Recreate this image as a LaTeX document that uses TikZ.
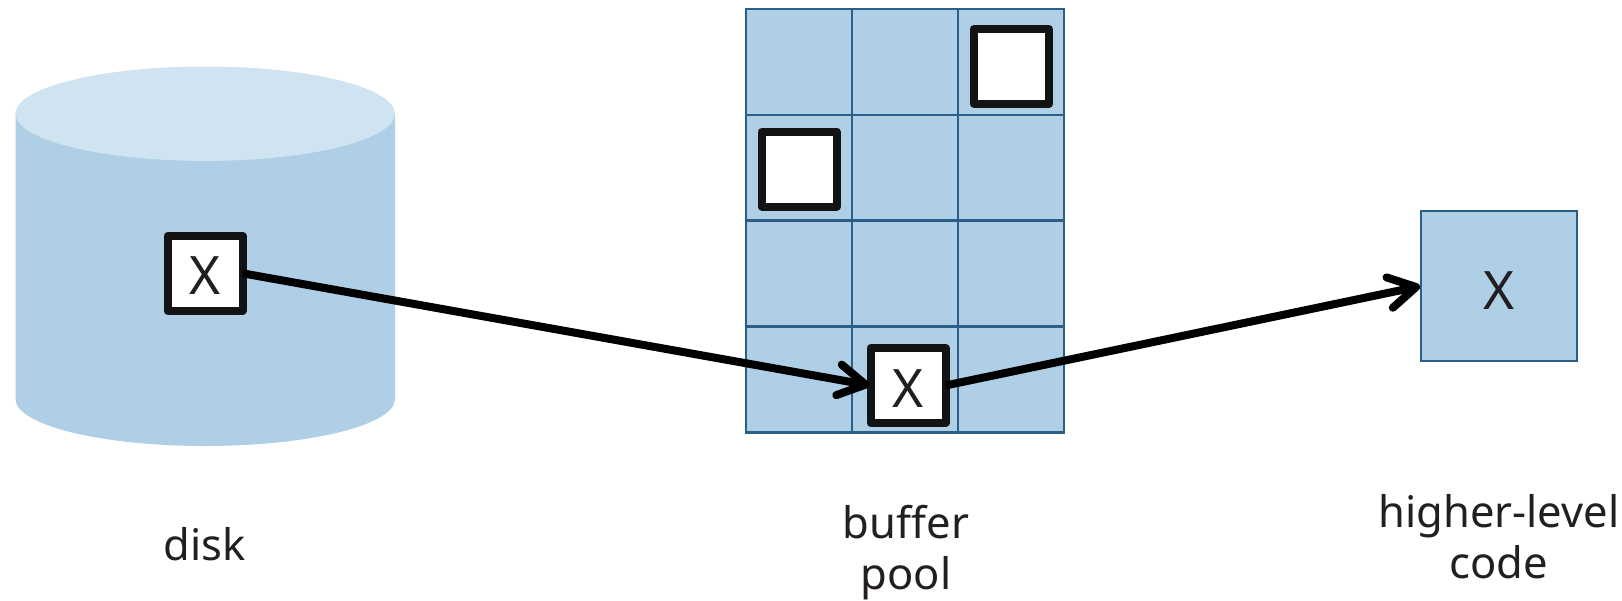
\documentclass[tikz,border=0pt]{standalone}
\usepackage{fontspec}
\setmainfont{Noto Sans}
\usetikzlibrary{arrows.meta}
\definecolor{blockfill}{HTML}{AECFE6}
\definecolor{blockline}{HTML}{2C5F87}
\definecolor{cyltop}{HTML}{D0E3F0}
\definecolor{inkdark}{HTML}{141313}
\definecolor{txt}{HTML}{231F20}
\tikzset{
  x=1pt,y=-1pt,
  cell/.style={draw=blockline,fill=blockfill,line width=2.6pt,minimum width=106pt,minimum height=105.8pt,inner sep=0pt,outer sep=0pt},
  codebox/.style={draw=blockline,fill=blockfill,line width=2.6pt,minimum width=156pt,minimum height=150pt,inner sep=0pt,outer sep=0pt,text=txt,font=\fontsize{53}{53}\selectfont,text height=46pt,text depth=0pt},
  page/.style={draw=inkdark,fill=white,line width=8pt,line join=round,minimum size=75pt,inner sep=0pt,outer sep=0pt,text=txt,font=\fontsize{53}{53}\selectfont,text height=43pt,text depth=0pt},
  caption/.style={align=center,text=txt,font=\fontsize{43.5}{51}\selectfont},
  conn/.style={line width=8pt,black,-{Straight Barb[length=27pt,width=31pt,round,line width=8pt]},shorten >=1pt},
}
\begin{document}
\begin{tikzpicture}
\useasboundingbox (0,0) rectangle (1622,600);
% disk
\fill[blockfill] (15.5,113.7) -- (15.5,399) arc[start angle=180,end angle=0,x radius=189.75,y radius=47] -- (395,113.7) -- cycle;
\fill[cyltop] (205.2,113.7) ellipse[x radius=189.75,y radius=47.2];
% buffer pool
\foreach \c/\x in {a/799,b/905,c/1011}{
  \foreach \r/\y in {1/61.9,2/167.7,3/273.5,4/379.4}{
    \node[cell] (\c\r) at (\x,\y) {};
  }
}
\node[page] (top) at (1011.3,66.5) {};
\node[page] (left) at (799.2,169) {};
\node[page] (bufx) at (908,385.5) {X};
\node[page] (diskx) at (205,273.3) {X};
\node[codebox] (higher) at (1499,286) {X};
\draw[conn] (diskx.east) -- (bufx.west);
\draw[conn] (bufx.east) -- (higher.west);
\node[caption] (l1) at (205,544) {disk};
\node[caption] (l2) at (906,553) {buffer\\pool};
\node[caption] (l3) at (1499,537) {higher-level\\code};
\end{tikzpicture}
\end{document}
